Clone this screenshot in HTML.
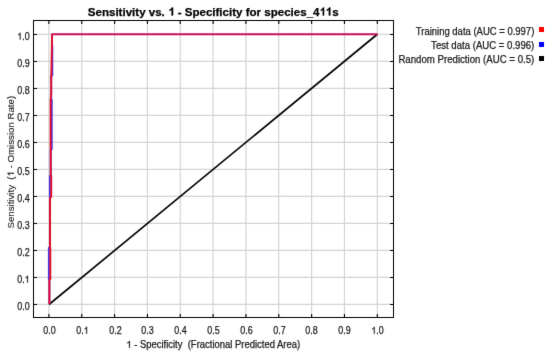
<!DOCTYPE html><html><head><meta charset="utf-8"><style>html,body{margin:0;padding:0;background:#fff;width:550px;height:355px;overflow:hidden}svg{display:block}#w{will-change:transform;width:550px;height:355px;background:#fff}text{font-family:"Liberation Sans",sans-serif;stroke:#1a1a1a;stroke-width:0.25px}</style></head><body><div id="w"><svg width="550" height="355" viewBox="0 0 550 355"><defs><filter id="sf" x="0" y="0" width="550" height="355" filterUnits="userSpaceOnUse" color-interpolation-filters="sRGB"><feConvolveMatrix order="3" kernelMatrix="64 672 64 672 7056 672 64 672 64" divisor="10000" edgeMode="duplicate"/></filter></defs><g filter="url(#sf)"><rect x="0" y="0" width="550" height="355" fill="#fff"/><path d="M48.90 21V317M34 304.45H393M81.74 21V317M34 277.45H393M114.58 21V317M34 250.45H393M147.42 21V317M34 223.45H393M180.26 21V317M34 196.45H393M213.10 21V317M34 169.45H393M245.94 21V317M34 142.45H393M278.78 21V317M34 115.45H393M311.62 21V317M34 88.45H393M344.46 21V317M34 61.45H393M377.30 21V317M34 34.45H393" stroke="#d4d4d4" stroke-width="1.2" fill="none"/><path d="M48.90 21v3M48.90 317v-3M34 304.45h3M393 304.45h-3M81.74 21v3M81.74 317v-3M34 277.45h3M393 277.45h-3M114.58 21v3M114.58 317v-3M34 250.45h3M393 250.45h-3M147.42 21v3M147.42 317v-3M34 223.45h3M393 223.45h-3M180.26 21v3M180.26 317v-3M34 196.45h3M393 196.45h-3M213.10 21v3M213.10 317v-3M34 169.45h3M393 169.45h-3M245.94 21v3M245.94 317v-3M34 142.45h3M393 142.45h-3M278.78 21v3M278.78 317v-3M34 115.45h3M393 115.45h-3M311.62 21v3M311.62 317v-3M34 88.45h3M393 88.45h-3M344.46 21v3M344.46 317v-3M34 61.45h3M393 61.45h-3M377.30 21v3M377.30 317v-3M34 34.45h3M393 34.45h-3" stroke="#000" stroke-width="1.1" fill="none"/><path d="M49 304.5L377 34.5" stroke="#000" stroke-width="1.65" fill="none"/><path d="M49.4 304V280L48.85 279V248L50 247V198L49.9 197V176L50.7 175V150L51.75 149V100L51.2 99V76L52.3 75V46L52 45V35" stroke="#4236ee" stroke-width="1.9" fill="none"/><path d="M49.4 304V280L50.3 279V248L50 247V198L51.2 197V176L50.7 175V150L50.6 149V100L51.2 95V80L51.4 70L51.8 50L52.1 36V34.4" stroke="#e40c26" stroke-width="1.9" fill="none"/><path d="M51.2 34.2 L377.8 34.2" stroke="#c8105a" stroke-width="1.9" fill="none"/><rect x="33.5" y="20.5" width="360" height="297" stroke="#000" stroke-width="1" fill="none" shape-rendering="crispEdges"/><rect x="539" y="27" width="5" height="5" fill="#ff0000"/><rect x="539" y="42" width="5" height="5" fill="#0000ff"/><rect x="539" y="56" width="5" height="5" fill="#000000"/><text x="213.3" y="15.5" text-anchor="middle" font-weight="bold" font-size="11.56" fill="#000" style="stroke:#000">Sensitivity vs.   - Specificity for species_4  s</text><path transform="translate(168.355 15.500) scale(0.005652 -0.005645)" d="M844 0L563 0L563 1010Q409 875 200 810L200 1055Q310 1090 439 1190Q568 1290 616 1409L844 1409Z" fill="#000" stroke="#000" stroke-width="44.3"/><path transform="translate(319.823 15.500) scale(0.005089 -0.005645)" d="M844 0L563 0L563 1010Q409 875 200 810L200 1055Q310 1090 439 1190Q568 1290 616 1409L844 1409Z" fill="#000" stroke="#000" stroke-width="44.3"/><path transform="translate(325.605 15.500) scale(0.005652 -0.005645)" d="M844 0L563 0L563 1010Q409 875 200 810L200 1055Q310 1090 439 1190Q568 1290 616 1409L844 1409Z" fill="#000" stroke="#000" stroke-width="44.3"/><text x="29.6" y="309.6" text-anchor="end" font-size="10" fill="#1a1a1a" textLength="12.4" lengthAdjust="spacingAndGlyphs">0.0</text><text x="29.6" y="282.6" text-anchor="end" font-size="10" fill="#1a1a1a" textLength="12.4" lengthAdjust="spacingAndGlyphs">0. </text><path transform="translate(24.626 282.600) scale(0.004367 -0.004883)" d="M763 0L583 0L583 1100Q520 1040 415 980Q310 920 223 890L223 1060Q370 1130 480 1225Q590 1320 640 1409L763 1409Z" fill="#1a1a1a" stroke="#1a1a1a" stroke-width="51.2"/><text x="29.6" y="255.6" text-anchor="end" font-size="10" fill="#1a1a1a" textLength="12.4" lengthAdjust="spacingAndGlyphs">0.2</text><text x="29.6" y="228.6" text-anchor="end" font-size="10" fill="#1a1a1a" textLength="12.4" lengthAdjust="spacingAndGlyphs">0.3</text><text x="29.6" y="201.6" text-anchor="end" font-size="10" fill="#1a1a1a" textLength="12.4" lengthAdjust="spacingAndGlyphs">0.4</text><text x="29.6" y="174.6" text-anchor="end" font-size="10" fill="#1a1a1a" textLength="12.4" lengthAdjust="spacingAndGlyphs">0.5</text><text x="29.6" y="147.6" text-anchor="end" font-size="10" fill="#1a1a1a" textLength="12.4" lengthAdjust="spacingAndGlyphs">0.6</text><text x="29.6" y="120.6" text-anchor="end" font-size="10" fill="#1a1a1a" textLength="12.4" lengthAdjust="spacingAndGlyphs">0.7</text><text x="29.6" y="93.6" text-anchor="end" font-size="10" fill="#1a1a1a" textLength="12.4" lengthAdjust="spacingAndGlyphs">0.8</text><text x="29.6" y="66.6" text-anchor="end" font-size="10" fill="#1a1a1a" textLength="12.4" lengthAdjust="spacingAndGlyphs">0.9</text><text x="29.6" y="39.6" text-anchor="end" font-size="10" fill="#1a1a1a" textLength="12.4" lengthAdjust="spacingAndGlyphs"> .0</text><path transform="translate(17.200 39.600) scale(0.004355 -0.004883)" d="M763 0L583 0L583 1100Q520 1040 415 980Q310 920 223 890L223 1060Q370 1130 480 1225Q590 1320 640 1409L763 1409Z" fill="#1a1a1a" stroke="#1a1a1a" stroke-width="51.2"/><text x="49.5" y="333.7" text-anchor="middle" font-size="10" fill="#1a1a1a" textLength="12.4" lengthAdjust="spacingAndGlyphs">0.0</text><text x="82.5" y="333.7" text-anchor="middle" font-size="10" fill="#1a1a1a" textLength="12.4" lengthAdjust="spacingAndGlyphs">0. </text><path transform="translate(83.726 333.700) scale(0.004367 -0.004883)" d="M763 0L583 0L583 1100Q520 1040 415 980Q310 920 223 890L223 1060Q370 1130 480 1225Q590 1320 640 1409L763 1409Z" fill="#1a1a1a" stroke="#1a1a1a" stroke-width="51.2"/><text x="115.5" y="333.7" text-anchor="middle" font-size="10" fill="#1a1a1a" textLength="12.4" lengthAdjust="spacingAndGlyphs">0.2</text><text x="147.5" y="333.7" text-anchor="middle" font-size="10" fill="#1a1a1a" textLength="12.4" lengthAdjust="spacingAndGlyphs">0.3</text><text x="180.5" y="333.7" text-anchor="middle" font-size="10" fill="#1a1a1a" textLength="12.4" lengthAdjust="spacingAndGlyphs">0.4</text><text x="213.5" y="333.7" text-anchor="middle" font-size="10" fill="#1a1a1a" textLength="12.4" lengthAdjust="spacingAndGlyphs">0.5</text><text x="246.5" y="333.7" text-anchor="middle" font-size="10" fill="#1a1a1a" textLength="12.4" lengthAdjust="spacingAndGlyphs">0.6</text><text x="279.5" y="333.7" text-anchor="middle" font-size="10" fill="#1a1a1a" textLength="12.4" lengthAdjust="spacingAndGlyphs">0.7</text><text x="311.5" y="333.7" text-anchor="middle" font-size="10" fill="#1a1a1a" textLength="12.4" lengthAdjust="spacingAndGlyphs">0.8</text><text x="344.5" y="333.7" text-anchor="middle" font-size="10" fill="#1a1a1a" textLength="12.4" lengthAdjust="spacingAndGlyphs">0.9</text><text x="377.5" y="333.7" text-anchor="middle" font-size="10" fill="#1a1a1a" textLength="12.4" lengthAdjust="spacingAndGlyphs"> .0</text><path transform="translate(371.300 333.700) scale(0.004355 -0.004883)" d="M763 0L583 0L583 1100Q520 1040 415 980Q310 920 223 890L223 1060Q370 1130 480 1225Q590 1320 640 1409L763 1409Z" fill="#1a1a1a" stroke="#1a1a1a" stroke-width="51.2"/><text x="213.2" y="347.8" text-anchor="middle" font-size="10" fill="#1a1a1a" textLength="173.8" lengthAdjust="spacingAndGlyphs" xml:space="preserve">  - Specificity  (Fractional Predicted Area)</text><path transform="translate(126.300 347.800) scale(0.004614 -0.004883)" d="M763 0L583 0L583 1100Q520 1040 415 980Q310 920 223 890L223 1060Q370 1130 480 1225Q590 1320 640 1409L763 1409Z" fill="#1a1a1a" stroke="#1a1a1a" stroke-width="51.2"/><g transform="translate(14 162.2) rotate(-90)"><text x="0" y="0" text-anchor="middle" font-size="9.6" fill="#1a1a1a" style="stroke-width:0.1px" textLength="132.7" lengthAdjust="spacingAndGlyphs" xml:space="preserve">Sensitivity  (  - Omission Rate)</text><path transform="translate(-14.249 0.000) scale(0.004742 -0.004687)" d="M763 0L583 0L583 1100Q520 1040 415 980Q310 920 223 890L223 1060Q370 1130 480 1225Q590 1320 640 1409L763 1409Z" fill="#1a1a1a" stroke="#1a1a1a" stroke-width="21.3"/></g><text x="534.3" y="34.6" text-anchor="end" font-size="10" fill="#1a1a1a" textLength="118.5" lengthAdjust="spacingAndGlyphs">Training data (AUC = 0.997)</text><text x="534.3" y="49.0" text-anchor="end" font-size="10" fill="#1a1a1a" textLength="103.2" lengthAdjust="spacingAndGlyphs">Test data (AUC = 0.996)</text><text x="534.3" y="63.3" text-anchor="end" font-size="10" fill="#1a1a1a" textLength="135.9" lengthAdjust="spacingAndGlyphs">Random Prediction (AUC = 0.5)</text></g></svg></div></body></html>
